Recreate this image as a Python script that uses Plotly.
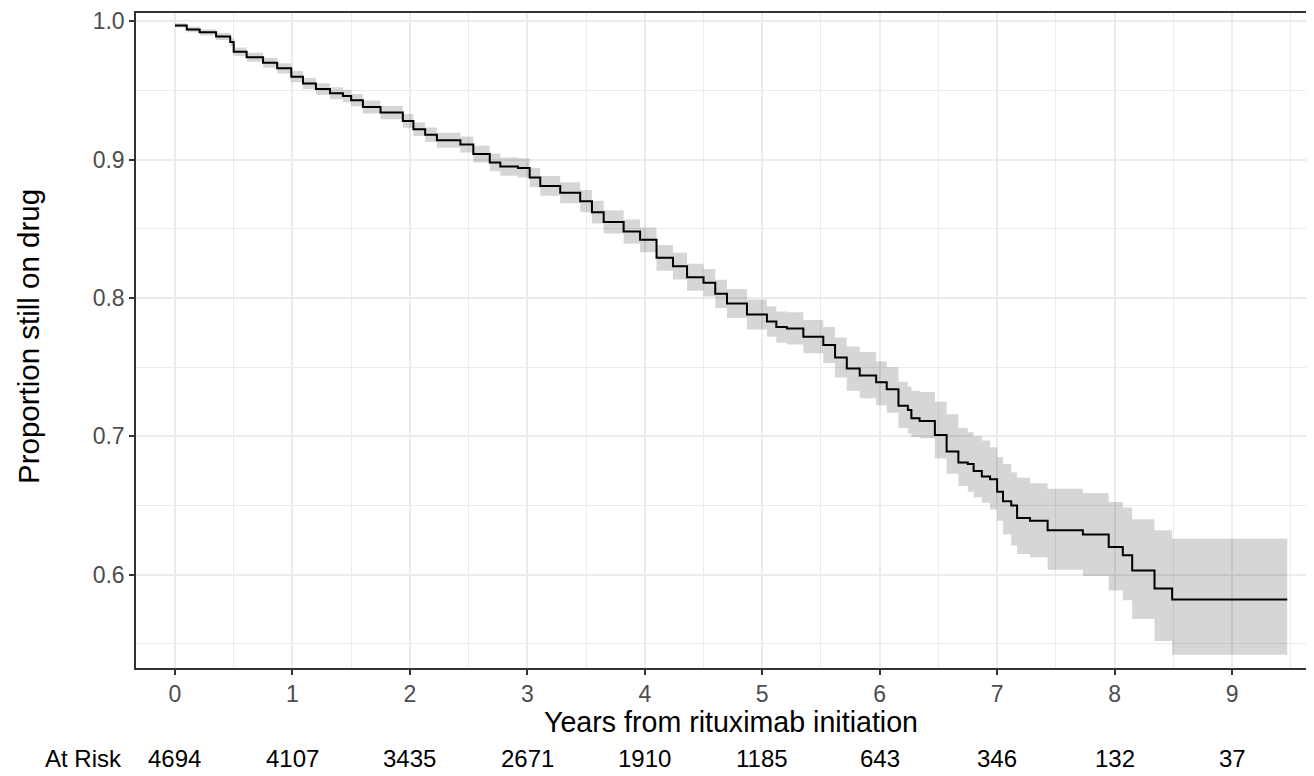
import plotly.graph_objects as go

# Kaplan-Meier estimate
time_years = [0, 0.1, 0.21, 0.35, 0.47, 0.5, 0.61, 0.75, 0.87, 0.99, 1.09, 1.2, 1.32, 1.43, 1.5,
              1.6, 1.75, 1.94, 2.03, 2.13, 2.23, 2.43, 2.54, 2.68, 2.77, 2.92, 3.02, 3.11, 3.28, 3.45,
              3.55, 3.65, 3.82, 3.96, 4.1, 4.24, 4.36, 4.5, 4.6, 4.7, 4.87, 5.04, 5.12, 5.21, 5.35,
              5.52, 5.62, 5.72, 5.83, 5.97, 6.06, 6.16, 6.24, 6.27, 6.34, 6.47, 6.57, 6.67, 6.75,
              6.80, 6.87, 6.94, 7.0, 7.05, 7.12, 7.17, 7.28, 7.43, 7.73, 7.95, 8.07, 8.15, 8.34,
              8.49, 9.47]
surv = [0.997, 0.994, 0.992, 0.989, 0.985, 0.978, 0.974, 0.970, 0.966, 0.960, 0.955, 0.951, 0.948,
        0.946, 0.943, 0.938, 0.934, 0.928, 0.922, 0.918, 0.914, 0.911, 0.904, 0.898, 0.895, 0.894,
        0.887, 0.881, 0.876, 0.870, 0.862, 0.855, 0.848, 0.842, 0.829, 0.823, 0.815, 0.811, 0.803,
        0.796, 0.788, 0.783, 0.779, 0.778, 0.772, 0.766, 0.757, 0.749, 0.744, 0.739, 0.734, 0.722,
        0.719, 0.713, 0.711, 0.701, 0.689, 0.681, 0.680, 0.675, 0.671, 0.669, 0.660, 0.653, 0.650,
        0.641, 0.639, 0.632, 0.629, 0.620, 0.614, 0.603, 0.590, 0.582, 0.582]
ci_lower = [0.9955, 0.992, 0.990, 0.9865, 0.982, 0.975, 0.9708, 0.9665, 0.9623, 0.956, 0.951,
            0.9468, 0.9437, 0.9415, 0.9385, 0.9333, 0.9292, 0.923, 0.917, 0.9128, 0.9086, 0.9052,
            0.898, 0.8916, 0.8884, 0.887, 0.880, 0.8738, 0.8684, 0.862, 0.8538, 0.8466, 0.8392,
            0.833, 0.8197, 0.8134, 0.8052, 0.801, 0.7928, 0.7855, 0.7772, 0.772, 0.7677, 0.7664,
            0.760, 0.753, 0.7425, 0.733, 0.7275, 0.7225, 0.717, 0.706, 0.702, 0.6995, 0.6985,
            0.684, 0.673, 0.664, 0.660, 0.656, 0.652, 0.647, 0.639, 0.629, 0.621, 0.615, 0.6125,
            0.6035, 0.599, 0.5885, 0.5815, 0.568, 0.552, 0.542, 0.542]
ci_upper = [0.9985, 0.996, 0.994, 0.9915, 0.988, 0.981, 0.9772, 0.9735, 0.9697, 0.964, 0.959,
            0.9552, 0.9523, 0.9505, 0.9475, 0.9427, 0.9388, 0.933, 0.927, 0.9232, 0.9194, 0.9168,
            0.910, 0.9044, 0.9016, 0.901, 0.894, 0.8882, 0.8836, 0.878, 0.8702, 0.8634, 0.8568,
            0.851, 0.8383, 0.8326, 0.8248, 0.821, 0.8132, 0.8065, 0.7988, 0.794, 0.7903, 0.7896,
            0.784, 0.779, 0.7715, 0.765, 0.761, 0.754, 0.750, 0.7395, 0.736, 0.733, 0.732, 0.725,
            0.716, 0.706, 0.703, 0.700, 0.697, 0.692, 0.685, 0.680, 0.674, 0.670, 0.666, 0.662,
            0.659, 0.6525, 0.6485, 0.640, 0.632, 0.626, 0.626]

# Number at risk table
risk_times = [0, 1, 2, 3, 4, 5, 6, 7, 8, 9]
risk_counts = [4694, 4107, 3435, 2671, 1910, 1185, 643, 346, 132, 37]

x_ticks = [0, 1, 2, 3, 4, 5, 6, 7, 8, 9]
y_ticks = [0.6, 0.7, 0.8, 0.9, 1.0]
y_tick_labels = ["0.6", "0.7", "0.8", "0.9", "1.0"]

FONT = "Liberation Sans, Arial, sans-serif"

fig = go.Figure()
fig.add_trace(go.Scatter(x=time_years, y=ci_lower, mode="lines", line=dict(width=0, shape="hv"),
                         hoverinfo="skip", showlegend=False))
fig.add_trace(go.Scatter(x=time_years, y=ci_upper, mode="lines", line=dict(width=0, shape="hv"),
                         fill="tonexty", fillcolor="rgba(0,0,0,0.16)", hoverinfo="skip",
                         showlegend=False))
fig.add_trace(go.Scatter(x=time_years, y=surv, mode="lines",
                         line=dict(color="black", width=2, shape="hv"), showlegend=False))

# page has an 8px body margin, so the figure is 8px smaller on each axis
OFF = 8
W, H = 1314 - OFF, 776 - OFF
ml, mr, mt, mb = 136 - OFF, 0, 1, 108
pw, ph = W - ml - mr, H - mt - mb


def py(page_y):
    """page pixel y -> paper coordinate"""
    return (mt + ph - (page_y - OFF)) / ph


def px(page_x):
    return (page_x - OFF - ml) / pw


fig.update_layout(
    width=W, height=H,
    margin=dict(l=ml, r=mr, t=mt, b=mb, pad=0),
    plot_bgcolor="white", paper_bgcolor="white",
    font=dict(family=FONT),
    xaxis=dict(range=[-0.332, 9.698], tickvals=x_ticks, ticktext=[str(v) for v in x_ticks],
               showgrid=True, gridcolor="#EBEBEB", gridwidth=2,
               minor=dict(dtick=0.5, tick0=0, showgrid=True, gridcolor="#EBEBEB", gridwidth=1.2),
               showline=True, linecolor="#333333", linewidth=1.5, mirror=True,
               ticks="outside", ticklen=5, tickwidth=1.5, tickcolor="#333333",
               ticklabeloverflow="allow",
               tickfont=dict(size=23, color="#4D4D4D", family=FONT), zeroline=False),
    yaxis=dict(range=[0.5325, 1.006], tickvals=y_ticks, ticktext=y_tick_labels,
               showgrid=True, gridcolor="#EBEBEB", gridwidth=2,
               minor=dict(dtick=0.05, tick0=0, showgrid=True, gridcolor="#EBEBEB", gridwidth=1.2),
               showline=True, linecolor="#333333", linewidth=1.5, mirror=False,
               ticks="outside", ticklen=5, tickwidth=1.5, tickcolor="#333333",
               ticklabeloverflow="allow",
               tickfont=dict(size=23, color="#4D4D4D", family=FONT), zeroline=False),
)

annotations = []
annotations.append(dict(text="Years from rituximab initiation", xref="paper", yref="paper",
                        x=px(731), y=py(722), xanchor="center", yanchor="middle",
                        showarrow=False, font=dict(size=28.6, color="black", family=FONT)))
annotations.append(dict(text="Proportion still on drug", xref="paper", yref="paper",
                        x=px(28), y=py(335), xanchor="center", yanchor="middle", textangle=-90,
                        showarrow=False, font=dict(size=29.5, color="black", family=FONT)))
risk_y = py(759)
annotations.append(dict(text="At Risk", xref="paper", yref="paper", x=px(124), y=risk_y,
                        xanchor="right", yanchor="middle", showarrow=False,
                        font=dict(size=24, color="black", family=FONT)))
for t, n in zip(risk_times, risk_counts):
    annotations.append(dict(text=str(n), xref="x", yref="paper", x=t, y=risk_y,
                            xanchor="center", yanchor="middle", showarrow=False,
                            font=dict(size=24, color="black", family=FONT)))
fig.update_layout(annotations=annotations)

fig.write_html("out.html")
